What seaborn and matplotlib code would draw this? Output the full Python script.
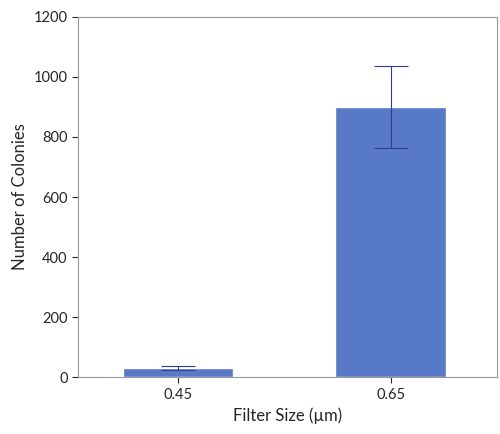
import numpy as np
import pandas as pd
import seaborn as sns
import matplotlib
matplotlib.use('Agg')
import matplotlib.pyplot as plt

filter_sizes = ['0.45', '0.65']
colonies = [30, 900]
err_low = [25, 763]
err_high = [37, 1038]

sns.set_style('white')
plt.rcParams['font.family'] = ['Lato', 'DejaVu Sans']

df = pd.DataFrame({'size': filter_sizes, 'colonies': colonies})

fig = plt.figure(figsize=(5, 4.34), dpi=100)
ax = fig.add_axes([0.156, 0.131, 0.838, 0.830])
sns.barplot(data=df, x='size', y='colonies', color='#5878c8', saturation=1,
            width=0.52, ax=ax)

yerr = np.array([np.array(colonies) - np.array(err_low),
                 np.array(err_high) - np.array(colonies)])
ax.errorbar(np.arange(len(colonies)), colonies, yerr=yerr, fmt='none',
            ecolor='#2f3f8f', elinewidth=0.8, capsize=12, capthick=0.8)

ax.set_xlim(-0.47, 1.5)
ax.set_ylim(0, 1200)
ax.set_yticks(range(0, 1201, 200))
ax.set_xlabel('Filter Size (µm)', fontsize=12)
ax.set_ylabel('Number of Colonies', fontsize=12)
ax.tick_params(labelsize=10.5, length=4, left=True, bottom=True)
for s in ax.spines.values():
    s.set_color('#999999')
    s.set_linewidth(0.8)

fig.savefig('out.png')
